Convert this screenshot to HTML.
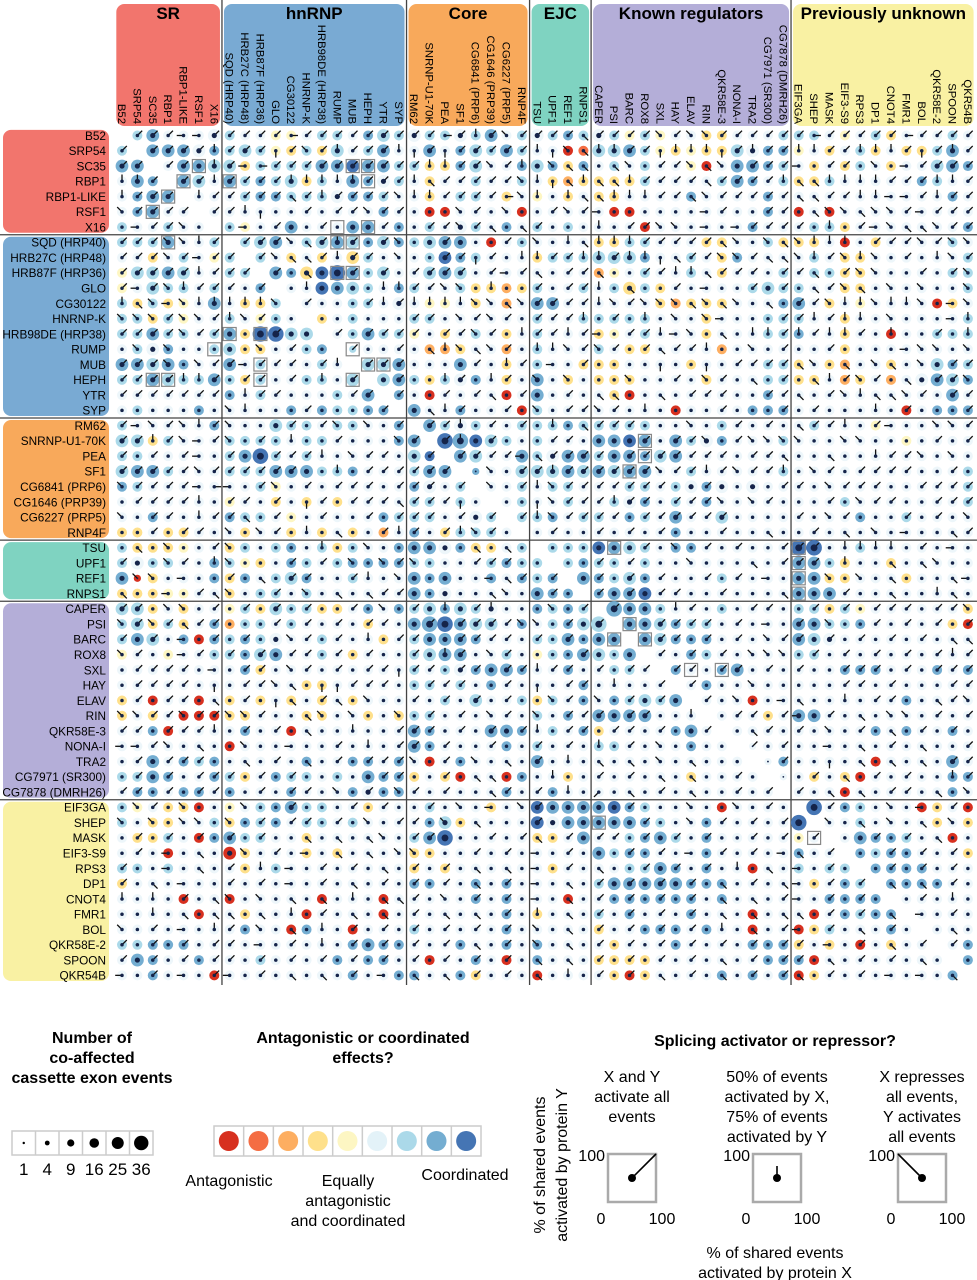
<!DOCTYPE html>
<html><head><meta charset="utf-8"><style>
body{margin:0;background:#fff;width:977px;height:1280px;overflow:hidden}
svg{display:block;font-family:"Liberation Sans",Arial,sans-serif}
</style></head><body>
<svg id="chart" width="977" height="1280" viewBox="0 0 977 1280" xmlns="http://www.w3.org/2000/svg">
<g id="headers"></g><g id="grid"></g><g id="cells"></g>
<g id="legend">
 <text x="92" y="1043" font-size="16" font-weight="bold" text-anchor="middle"><tspan x="92">Number of</tspan><tspan x="92" dy="20">co-affected</tspan><tspan x="92" dy="20">cassette exon events</tspan></text>
 <g id="sizeLegend"></g>
 <text x="363" y="1043" font-size="16" font-weight="bold" text-anchor="middle"><tspan x="363">Antagonistic or coordinated</tspan><tspan x="363" dy="20">effects?</tspan></text>
 <g id="colorLegend"></g>
 <text x="229" y="1186" font-size="16" text-anchor="middle">Antagonistic</text>
 <text x="348" y="1186" font-size="16" text-anchor="middle"><tspan x="348">Equally</tspan><tspan x="348" dy="20">antagonistic</tspan><tspan x="348" dy="20">and coordinated</tspan></text>
 <text x="465" y="1180" font-size="16" text-anchor="middle">Coordinated</text>
 <text x="775" y="1046" font-size="16" font-weight="bold" text-anchor="middle">Splicing activator or repressor?</text>
 <text font-size="16" text-anchor="middle" transform="translate(545,1165) rotate(-90)"><tspan x="0" y="0">% of shared events</tspan><tspan x="0" dy="22">activated by protein Y</tspan></text>
 <text x="775" y="1258" font-size="16" text-anchor="middle"><tspan x="775">% of shared events</tspan><tspan x="775" dy="20">activated by protein X</tspan></text>
 <g id="dirLegend"></g>
</g>
</svg>
<script>
const NS="http://www.w3.org/2000/svg";
const groupNames=["SR","hnRNP","Core","EJC","Known regulators","Previously unknown"];
const groupSizes=[7,12,8,4,13,12];
const groupColors=["#f2756d","#79aad3","#f8a95b","#7fd3c1","#b4aed8","#f9f1a3"];
const proteins=["B52","SRP54","SC35","RBP1","RBP1-LIKE","RSF1","X16","SQD (HRP40)","HRB27C (HRP48)","HRB87F (HRP36)","GLO","CG30122","HNRNP-K","HRB98DE (HRP38)","RUMP","MUB","HEPH","YTR","SYP","RM62","SNRNP-U1-70K","PEA","SF1","CG6841 (PRP6)","CG1646 (PRP39)","CG6227 (PRP5)","RNP4F","TSU","UPF1","REF1","RNPS1","CAPER","PSI","BARC","ROX8","SXL","HAY","ELAV","RIN","QKR58E-3","NONA-I","TRA2","CG7971 (SR300)","CG7878 (DMRH26)","EIF3GA","SHEP","MASK","EIF3-S9","RPS3","DP1","CNOT4","FMR1","BOL","QKR58E-2","SPOON","QKR54B"];
const palette=["#d7301f","#f46d43","#fdae61","#fee08b","#fdf6c3","#edf6fa","#abd9e9","#74add1","#4575b4"];
// colour class per cell (0 antagonistic .. 8 coordinated, '.' = none)
const colorRows=[
".6755556|554456657665|66567565|6765|6464553355566|654563555655",
"6.77757|666436365675|57576676|5501|6676434336577|453563533675",
"77.5776|636666778776|63376557|6737|5656554057776|535365355677",
"577.765|767663657756|53556556|5323|3336555567756|336555557655",
"5777.55|567766657765|53566535|4535|3355557555575|555555555575",
"57755.5|555555555575|50055550|5555|5005555555575|050555555555",
"655655.|645575557757|56556575|6565|5550555555755|566355555557",
"6667556|.66756676767|66775056|5555|3366555335563|335053555565",
"5535654|6.6535353655|56876555|3666|6667556537555|565335555556",
"4667655|66.773887665|56765555|5555|2456556535556|566335555566",
"4566656|557.55876657|65563323|6556|5636355555666|655335555556",
"6363457|5336.5556655|54453525|7755|5555323335557|753545555035",
"6636455|65465.356555|66555555|6556|6666555355566|655355555556",
"6676656|738866.56766|45356535|6555|3456555355566|755355055666",
"5657556|6335567.6555|52235525|6555|6533555525555|555355555555",
"7767755|75655565.667|55575535|6553|3355553555566|353255355676",
"6676667|636556656.67|63657535|7535|3335555355566|335235255767",
"5555555|7565555657.7|50555505|7555|5305555555575|555555555575",
"5655575|55557576677.|75575550|6555|5555505555777|555555505777",
"6555557|555666566557|.7656556|6676|6666555565555|565554555555",
"6636555|666656655557|7.878665|6555|7787576575556|555555545555",
"6655555|678656555555|68.76557|6577|6777675555555|555555555555",
"6776555|666777667555|677.7556|6676|7677556555556|555555555556",
"7655555|556455555555|7556.556|5665|5566565755555|555555555556",
"5555555|455353535555|66565.56|5565|5657565755555|555655555556",
"5575555|766545555576|665556.6|6756|6576575565555|555575565555",
"3353355|535535353525|7536665.|5555|5555575555555|555555555555",
"6333455|365675636557|77573356|.666|8766577555555|885565555555",
"6566557|643576567777|66555676|6.67|6656555555555|776355355555",
"7035557|375667556555|77755757|67.7|7667555565555|773355535555",
"3334455|356656555555|77555555|777.|7778555555555|777555555555",
"6635355|463666335757|66766555|7676|.777655565555|663645555553",
"6636357|266565555355|77876657|5676|6.77676655555|776675555530",
"6765707|676555655535|67777555|6677|77.7677755555|765555555555",
"4554556|676755653555|66775565|4677|667.557655555|665555555555",
"5555555|573555555555|65657777|5575|5665.75577555|555777555757",
"5555555|555553355555|66565755|5557|55555.5755555|555555555555",
"3505505|353535353555|55656556|3657|576667.555055|555555575555",
"3535000|335553355353|66555555|6575|7777555.55535|775555555555",
"5570555|575505555555|77555777|5657|35555775.5555|555557575575",
"5555555|055555555555|77555575|6555|665555755.555|555555555555",
"5575767|555557557757|50575555|7555|5555555555.57|555550555575",
"6677557|635766565777|35305507|5535|55555535555.5|535305555577",
"5775775|755575557577|55555575|5755|555555555555.|555055555575",
"6453305|456776655355|56555355|8777|7876555505555|.85765550350",
"6533556|376756656555|57635555|8577|7777655755555|8.5565555353",
"5336507|766553555555|67855555|3357|5567765755555|45.577765505",
"5550555|035553535555|33555555|5555|7677555755555|755.76775553",
"6656555|535655555555|35355555|5355|5566775755055|6566.7777555",
"3555555|555555555555|77557575|5555|6777777775555|53576.777755",
"5555055|055555055505|55557575|5505|5777777575555|557777.55555",
"5555505|535550555505|55555575|3555|6575557555055|5057677.5555",
"5555555|575507550555|65555575|5555|3557775755055|03655575.555",
"6677755|555555557777|55575575|7555|5355575555777|353505355.57",
"5775575|556555575775|50557505|7555|3333555555577|7055555555.7",
"5575550|555555557557|75573555|0555|5303555575757|03555555557."];
// count level per cell: events = (level+1)^2
const sizeRows=[
"0121112|111111111121|21121211|2111|2111111111111|111111111111",
"1022221|121111121121|12112121|1111|2221111112211|111111111121",
"2201222|211111222221|11112111|2111|1111111112211|111111111221",
"1210221|211121112121|11111111|1111|1111111112111|111111111111",
"1122011|111111121111|11111111|1111|1111111111111|111111111111",
"1121101|111111111111|11111111|1111|1111111111111|111111111111",
"1111110|111121112211|11121111|1111|1111111111111|111111111111",
"1112111|012211222121|12221111|1111|1111111111111|111111111111",
"1111111|101111112111|11211111|1111|2221111111111|111111111111",
"1222211|110212232121|12221111|1111|1111111111111|111111111111",
"1121111|111011222111|11111111|1111|1121111111121|111111111111",
"1111112|111101111112|11111111|2211|1111111111111|211111111111",
"1111111|111110111111|11111111|1111|1111111111111|111111111111",
"1121111|213322011211|11111111|1111|1111111111111|111111111111",
"1121111|211111110111|11111111|1111|1111111111111|111111111111",
"2222111|211111111222|11121111|1111|1111111111111|111111111211",
"1122112|111111112022|11121111|2111|1111111111111|111111112221",
"1111111|111111111201|11111111|2111|1111111111111|111111111121",
"1111111|111111111110|21111111|1111|1111111111111|111111111111",
"1111111|111211111111|02121111|1111|1111111111111|111111111111",
"2211111|111111111111|20332211|1111|2222121211111|111111111111",
"1111111|123111111111|21022112|1222|1221221111111|111111111111",
"2221111|111222111111|12220112|2222|2222111111111|111111111111",
"1111111|111111111111|12110111|1111|1111112121211|111111111111",
"1111111|111111111111|11111011|1111|1121111111111|111111111111",
"1111111|111111111111|11112101|1111|1111121121111|111111111111",
"1111111|111111111111|11111110|1111|1111111111111|111111111111",
"1111111|111111111111|22211111|0111|2221111111111|331111111111",
"1211111|111111111111|11111111|1011|1111111111111|221111111111",
"2011111|111121111111|21211111|1102|1121111111111|221111111111",
"1111111|111111111111|21211111|2110|1222111111111|222111111111",
"2211111|111211111111|12121211|1111|0322111111111|111111111111",
"1211111|111111111111|23322211|1112|3022211111111|221111111111",
"1221111|111211111111|12221111|1121|2202211111111|222111111111",
"1111111|112211111111|12221111|1112|2120111111111|111111111111",
"1111111|111111111111|11121221|1111|1111011112111|111111111111",
"1111111|111111111111|11111111|1111|1111101111111|111111111111",
"1111111|111111111111|11112111|1111|1112121111111|111111111111",
"1111111|111111111111|11111111|1111|2222111011111|221111111111",
"1111111|111111111111|21111221|1111|1111112101111|111111111111",
"1111111|111111111111|21111111|1111|1111111111011|111111111111",
"1121111|111111111111|11111111|2111|1111111111101|111111111121",
"1121111|111111111211|11111111|1111|1111111111110|111111111111",
"1111111|111111111211|11111111|1111|1111111111110|111111111111",
"1111111|111121111111|11111111|2222|2211111111111|031111111111",
"1111111|111111111111|11211111|2222|2221111111111|301111111111",
"1111111|211111111111|12311111|1112|1111211111111|110121111111",
"1111111|211111111111|11111111|1111|2111111111111|111011111111",
"1111111|111111111111|11111111|1111|1111211111111|111101111111",
"1111111|111111111111|11111111|1111|1222221111111|111111111111",
"1111111|111111111111|11111111|1111|1111111111111|111111111111",
"1111111|111111111111|11111111|1111|1111111111111|111111111111",
"1111111|111111111111|11111111|1111|1111111111111|111111111111",
"1111111|111111111211|11111111|1111|1111111111111|111111111111",
"1211111|111111111111|11111111|1111|1111111111111|111111111111",
"1111111|111111111111|11111111|1111|1111111111111|111111111111"];
// activator/repressor direction: 0 E,1 NE,2 N,3 NW,4 W,5 SW,6 S,7 SE, '-' none
const dirRows=[
"-111441|111101111111|11012131|1117|1111313311111|101111101111",
"1-11112|111613121112|61611111|2637|2211622261211|221122216121",
"11-11-2|140111111111|12211312|-377|-73-11373-111|4-11-3-41111",
"221-112|111122222111|27111113|2672|7721111711112|772222111221",
"2111-21|111171211113|22111103|2-27|7222117311111|771122441211",
"31111-1|126--1-11311|---31-3-|-131|4------41--11|-73373314111",
"-4113--|-4-1--1---1-|-11317-7|1---|2-1133-4-4111|1-2-14377311",
"1113321|-11137121-13|--1---1-|3-27|2221111173-37|3222-1113133",
"1113141|1-13771211-3|--1161-2|2112|2122671133177|321323-1-231",
"1111121|11-1-7--1-1-|1111-141|7-11|7--11227111-1|17-133--1-13",
"1413211|1-1--2----22|1133-2--|1-11|2-7--1-4--1-1|-7137-3-3--3",
"2734322|2223-1---121|22223373|1111|2313337373-7-|113223223-43",
"3331331|231---------|11-3131-|1112|-1-2-3-34---1|12122-3---42",
"1111311|---1---1-111|1-1131-2|1121|4-11243-7-221|21221-2--1-2",
"-3-3---|--3-1---1--1|-723731-|2231|31-17112--3-1|--1----433-3",
"1113-31|14111-122111|----1-21|-4-1|----6--6-1111|73-7-37-3-11",
"1111221|-11-1-2-11-1|--21-21-|3-3-|--3--1-31-7-1|-72131-7-113",
"1111111|-211----11-1|--1-17-1|--1-|77--7-111--11|7-1327731-11",
"-------|32---1----11|-721--1-|3-11|31-2----1---1|-1---2-1---1",
"1431321|3---1-13-3-1|-112-1-1|-2-7|111---3--1-1-|7112-14--331",
"1121341|3-1-2--1---3|1-12-1--|-11-|---1-113-1333|3--33----1-1",
"1-1-14-|1--1112-311-|-1-11114|7111|1-1111111-117|--7--2113-3-",
"1111131|11111--2-111|1111-3-1|1211|1111311213112|-31-1111--1-",
"3111140|4-13-1-111-1|11-1-3-1|2311|11111--1----1|1-3111--1111",
"-11112-|11-1-61-1117|1116-1--|6311|1211-1113-31-|--1-311--111",
"3-11-21|17-1--1--1-1|11-1-1-1|2311|11-111111----|1-31---1-1-3",
"--1-11-|3-31-2-7--12|1-1231--|-1--|1-1-1---1--7-|-1-7-3-4--71",
"-7-3--1|3-----2--3--|----7-7-|----|---1-3-1-1--1|11-2222-1-4-",
"1--31-2|3---1-1-3-31|3---111-|-7--|1-1---3---7-1|11-2--7-73--",
"-33-4--|1-7-11--12-3|-----471|-11-|1-1-1--1-1-4-|--3-3-7---74",
"7--4-17|3--1-3-7-711|-----73-|-1-1|1-1-11--1---7|---1--7--27-",
"11-33-1|-1-1-1--1-3-|1-2-12--|-3-1|-1---21---11-|-1-1-111-113",
"3131711|---1-1-1-11-|-1-11113|3-1-|1---1111-1-4-|1-3--1-1-1-1",
"1-1-4-1|-1--31-1-2-1|1--1111-|1-1-|----11-1-1-31|1-1-1-1-1-77",
"31--41-|1-1-11-1-1--|1-21-31-|---1|----1-1-1-333|-1-1-1-1-121",
"-1111-4|-11-31-1-116|11-11-11|211-|1-11-11-11-1-|1--111-1-111",
"-1111-6|-1137-66111-|-111--1-|6-11|-2--1-1---3--|---11-1---11",
"-1-11-7|-1-67-17-3--|1-1-1-1-|-31-|3-1-1--1-3--4|7--2-11--713",
"3311311|331--73-3--3|-1-1-31-|3-11|1-11--2--11-1|4-1-7-33-1-1",
"11-1112|-1-1-7--2--1|11-1-1-1|2-11|-11-1--1--71-|1-3-1-7-1-1-",
"4413-7-|-3--4--1-2-1|1-1--1--|1-1-|2-1-3-----1-1|--4-7-1-7--1",
"-1-111-|-7-1-7-1-111|3-1-3-7-|1-2-|7-7-3-7---1-1|--6-7-7-7-11",
"-1-1-11|1-1-1-----11|--1-77--|-2--|1-1-7-7--1-1-|-1-7-1-1--21",
"11-1-11|--1-11-3-1-3|1-1--71-|1-2-|5-7-1-7--1-1-|1-7-7-11-7-3",
"-31-3--|-3--1---1-1-|-1-3-4-3|1---|--1---3--3-1-|--1---3-4-1-",
"3-3-33-|3-1-11-1-3-1|1-3-7---|1---|---1--3-1-1-1|--3-7-3-7-3-",
"-1-1-1-|1-1--7-7-73-|11---1-1|7-1-|11-1-1-1--1-1|-1---1-1-7--",
"-1-4-7-|-3-1-4-7-7-3|3---1-1-|4-1-|--1-1-4-1-1-4|7-1---1-1-1-",
"1--4-7-|1-2-4-1-1-7-|1-1-7-7-|4-1-|7--1-1-1-2-7-|4-1-1-1-1-1-",
"1-7-4--|1-1-4-1-7-1-|1-1-7-1-|4-7-|1-1-1-1-7-1-7|4-1-1-7-7-1-",
"2-2-1-7|3-3-7-7-2-77|1-3-1-1-|4-7-|1-1-1-1-7-7-1|4-1-1-1-1-2-",
"--2-7-7|7-7-2-1-7-7-|1-7-7-1-|2-7-|1-1-1-1-7-7-7|7-1-1-7-4-1-",
"3-1-4-2|1-3-7-2-1-1-|1-1-1-1-|3-7-|1-1-1-1-2-7-1|4-1-7-1-1-7-",
"1-1-1-1|1-4-1-2-1-1-|1-1-7-1-|3-7-|1-1-1-1-1-1-1|1-4-1-7-1-1-",
"1-1-1-1|1-1-1-1-1-1-|1-1-1-1-|7-7-|1-1-1-1-7-1-1|1-7-1-1-7-1-",
"4-1-4-1|4-1-7-7-1-4-|7-7-1-1-|7-2-|1-1-7-1-7-1-1|7-1-1-4-4-7-"];
// highlighted (significant) cell pairs [row, col]
const boxRows=[2,3,4,5,2,2,3,3,6,6,7,7,7,9,9,13,13,14,14,15,15,15,16,16,16,16,20,21,22,27,27,28,29,30,32,33,33,35,35,45,46];
const boxCols=[5,4,3,2,15,16,7,16,14,16,3,14,15,14,15,7,9,6,15,9,16,17,2,3,9,15,34,34,33,32,44,44,44,44,33,32,34,37,39,31,45];

// ---------- layout (axis functions) ----------
const X0=122, DX=15.38, Y0=135.5, DY=15.27, N=proteins.length;
const colX=i=>X0+i*DX, rowY=j=>Y0+j*DY;
const clean=s=>s.replace(/\|/g,"");
function mk(tag,attrs,parent){const e=document.createElementNS(NS,tag);for(const k in attrs)e.setAttribute(k,attrs[k]);if(parent)parent.appendChild(e);return e;}
const H=document.getElementById("headers"),G=document.getElementById("grid"),C=document.getElementById("cells");
const bounds=[0];groupSizes.forEach(s=>bounds.push(bounds[bounds.length-1]+s));
for(let g=0;g<groupNames.length;g++){
  const a=bounds[g],b=bounds[g+1];
  const x1=colX(a-0.5)+2,x2=colX(b-0.5)-2;
  const hb=mk("rect",{x:x1,y:4,width:x2-x1,height:122,rx:8,fill:groupColors[g]},H);
  
  
  const ht=mk("text",{x:(x1+x2)/2,y:19,"font-size":17,"font-weight":"bold","text-anchor":"middle"},H);ht.textContent=groupNames[g];
  
  
  const y1=rowY(a-0.5)+2,y2=rowY(b-0.5)-2;
  const rb=mk("rect",{x:3,y:y1,width:106,height:y2-y1,rx:8,fill:groupColors[g]},H);
  
  
}
for(let i=0;i<N;i++){
  const t=mk("text",{x:0,y:0,"font-size":11.3,"text-anchor":"end",transform:`translate(${colX(i)-4},124) rotate(90)`},H);t.textContent=proteins[i];
  
  
  const r=mk("text",{x:106,y:rowY(i)+4.3,"font-size":11.8,"text-anchor":"end"},H);r.textContent=proteins[i];
  
  
}
for(let g=1;g<groupNames.length;g++){
  const x=colX(bounds[g]-0.5),y=rowY(bounds[g]-0.5);
  const vl=mk("line",{x1:x,y1:0,x2:x,y2:985,stroke:"#444","stroke-width":1.3},G);
  
  
  const hl=mk("line",{x1:0,y1:y,x2:977,y2:y,stroke:"#444","stroke-width":1.3},G);
  
  
}
const dirVec=[[1,0],[0.707,-0.707],[0,-1],[-0.707,-0.707],[-1,0],[-0.707,0.707],[0,1],[0.707,0.707]];
const crows=colorRows.map(clean),srows=sizeRows.map(clean),drows=dirRows.map(clean);
for(let j=0;j<N;j++)for(let i=0;i<N;i++){
  const c=(crows[j]||"")[i];if(c===undefined||c==="."||i===j)continue;
  const ci=+c,lv=+((srows[j]||"")[i]||1),d=(drows[j]||"")[i];
  const cx=colX(i),cy=rowY(j);
  const g=mk("g",{},C);
  
  
  mk("circle",{cx,cy,r:3.6+lv*1.4,fill:palette[ci]},g);
  if(d!==undefined&&/[0-7]/.test(d)){const v=dirVec[+d],L=6.8;mk("line",{x1:cx,y1:cy,x2:cx+v[0]*L,y2:cy+v[1]*L,stroke:"#111","stroke-width":1.3},g);}
  mk("circle",{cx,cy,r:0.9+lv*0.85,fill:"#15244a"},g);
}
for(let k=0;k<boxRows.length;k++){
  const b=mk("rect",{x:colX(boxCols[k])-6.5,y:rowY(boxRows[k])-6.5,width:13,height:13,fill:"none",stroke:"#888","stroke-width":1.2},C);
  
  
}
// ---------- legends ----------
const sizeLabels=["1","4","9","16","25","36"];
const SL=document.getElementById("sizeLegend");
mk("rect",{x:12,y:1131,width:141,height:24,fill:"#fff",stroke:"#ccc","stroke-width":1.5},SL);
sizeLabels.forEach((s,k)=>{
  const x=12+k*23.5;
  if(k>0)mk("line",{x1:x,y1:1131,x2:x,y2:1155,stroke:"#ccc","stroke-width":1.5},SL);
  const d=mk("circle",{cx:x+11.75,cy:1143,r:Math.sqrt(+s)*1.2,fill:"#000"},SL);
  
  
  const t=mk("text",{x:x+11.75,y:1175,"font-size":17,"text-anchor":"middle"},SL);t.textContent=s;
  
  
});
const CL=document.getElementById("colorLegend");
mk("rect",{x:214,y:1126,width:267,height:30,fill:"#fff",stroke:"#ccc","stroke-width":1.5},CL);
palette.forEach((p,k)=>{
  const x=214+k*29.67;
  if(k>0)mk("line",{x1:x,y1:1126,x2:x,y2:1156,stroke:"#ccc","stroke-width":1.5},CL);
  const d=mk("circle",{cx:x+14.8,cy:1141,r:10,fill:k===5?"#e3f2f8":p},CL);
  
  
});
const DL=document.getElementById("dirLegend");
const capt=[["X and Y","activate all","events"],["50% of events","activated by X,","75% of events","activated by Y"],["X represses","all events,","Y activates","all events"]];
const exX=[100,50,0],exY=[100,75,100];
[608,753,898].forEach((bx,k)=>{
  const cxm=bx+24;
  const t=mk("text",{x:cxm,y:1082,"font-size":16,"text-anchor":"middle"},DL);
  
  
  capt[k].forEach((l,n)=>{const s=mk("tspan",{x:cxm,dy:n?20:0},t);s.textContent=l;});
  const r=mk("rect",{x:bx,y:1154,width:48,height:48,fill:"none",stroke:"#aaa","stroke-width":2.5},DL);
  
  
  mk("line",{x1:cxm,y1:1178,x2:bx+exX[k]*0.48,y2:1202-exY[k]*0.48,stroke:"#000","stroke-width":1.6},DL);
  mk("circle",{cx:cxm,cy:1178,r:4,fill:"#000"},DL);
  const a=mk("text",{x:bx-3,y:1161,"font-size":16,"text-anchor":"end"},DL);a.textContent="100";
  const z=mk("text",{x:bx-7,y:1224,"font-size":16,"text-anchor":"middle"},DL);z.textContent="0";
  const h=mk("text",{x:bx+54,y:1224,"font-size":16,"text-anchor":"middle"},DL);h.textContent="100";
});
</script>
</body></html>
